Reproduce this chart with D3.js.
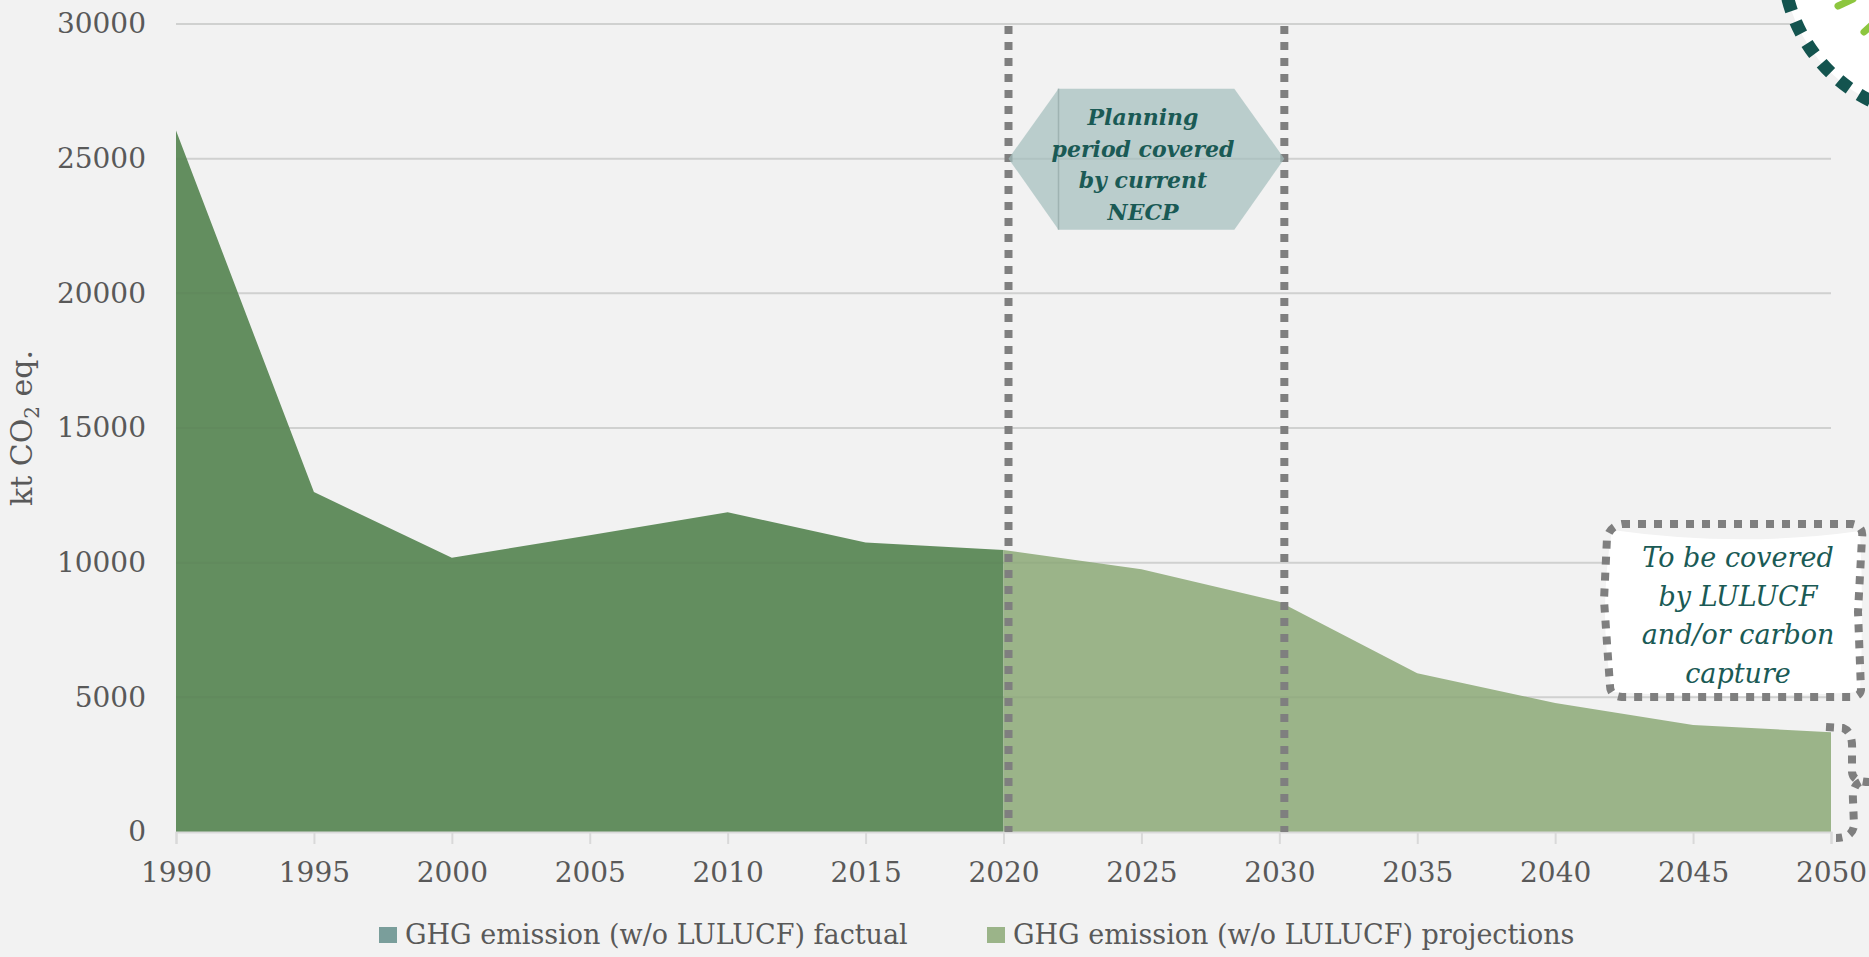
<!DOCTYPE html>
<html>
<head>
<meta charset="utf-8">
<script src="https://cdn.jsdelivr.net/npm/d3@7"></script>
<style>
  html, body { margin: 0; padding: 0; background: #f2f2f2; }
  svg { display: block; font-family: "DejaVu Serif", "Liberation Serif", serif; }
</style>
</head>
<body>
<svg id="chart" width="1869" height="957"></svg>
<script>
// years on the category axis
var years = [1990, 1995, 2000, 2005, 2010, 2015, 2020, 2025, 2030, 2035, 2040, 2045, 2050];
// factual emissions, 1990 - 2020 (kt CO2 eq.)
var factualYears = [1990, 1995, 2000, 2005, 2010, 2015, 2020];
var factualValues = [26050, 12620, 10180, 11020, 11870, 10745, 10470];
// projections, 2020 - 2050
var projYears = [2020, 2025, 2030, 2035, 2040, 2045, 2050];
var projValues = [10470, 9760, 8550, 5890, 4790, 3975, 3700];
var yTicks = [0, 5000, 10000, 15000, 20000, 25000, 30000];
var legendItems = ['GHG emission (w/o LULUCF) factual', 'GHG emission (w/o LULUCF) projections'];
var necpYears = [2020, 2030];
var necpText = ['Planning', 'period covered', 'by current', 'NECP'];
var boxText = ['To be covered', 'by LULUCF', 'and/or carbon', 'capture'];

var svg = d3.select('#chart');

var x = d3.scaleLinear().domain([1990, 2050]).range([176, 1831]);
var y = d3.scaleLinear().domain([0, 30000]).range([832, 24]);

// gridlines
svg.append('g').selectAll('line').data(yTicks.slice(1)).enter().append('line')
  .attr('x1', 176).attr('x2', 1831)
  .attr('y1', function (d) { return y(d); })
  .attr('y2', function (d) { return y(d); })
  .attr('stroke', '#d9d9d9').attr('stroke-width', 2);

var area = d3.area()
  .x(function (d) { return x(d[0]); })
  .y0(y(0))
  .y1(function (d) { return y(d[1]); });

svg.append('path')
  .datum(d3.zip(factualYears, factualValues))
  .attr('d', area).attr('fill', '#638e5f');

svg.append('path')
  .datum(d3.zip(projYears, projValues))
  .attr('d', area).attr('fill', '#9bb489');

// faint gridlines showing through the areas
svg.append('g').selectAll('line').data(yTicks.slice(1)).enter().append('line')
  .attr('x1', 176).attr('x2', 1831)
  .attr('y1', function (d) { return y(d); })
  .attr('y2', function (d) { return y(d); })
  .attr('stroke', 'rgba(60,80,60,0.06)').attr('stroke-width', 2);

// x axis
var xAxis = d3.axisBottom(x).tickValues(years).tickFormat(d3.format('d')).tickSize(12).tickPadding(18);
var gx = svg.append('g').attr('transform', 'translate(0,' + y(0) + ')').call(xAxis);
gx.select('.domain').attr('stroke', '#d9d9d9').attr('stroke-width', 2);
gx.selectAll('.tick line').attr('stroke', '#d9d9d9').attr('stroke-width', 2);
gx.selectAll('.tick text').attr('fill', '#595959').attr('font-size', 28)
  .attr('font-family', '"DejaVu Serif", serif');

// y axis labels
var yAxis = d3.axisLeft(y).tickValues(yTicks).tickFormat(d3.format('d')).tickSize(0).tickPadding(0);
var gy = svg.append('g').attr('transform', 'translate(146,0)').call(yAxis);
gy.select('.domain').remove();
gy.selectAll('.tick text').attr('fill', '#595959').attr('font-size', 28)
  .attr('font-family', '"DejaVu Serif", serif');

// y axis title
var yt = svg.append('text')
  .attr('transform', 'translate(32,428) rotate(-90)')
  .attr('text-anchor', 'middle')
  .attr('fill', '#595959').attr('font-size', 30);
yt.append('tspan').text('kt CO');
yt.append('tspan').attr('dy', 7).attr('font-size', 20).text('2');
yt.append('tspan').attr('dy', -7).text(' eq.');

// vertical dotted lines for the NECP period
svg.append('g').selectAll('line').data(necpYears).enter().append('line')
  .attr('x1', function (d) { return x(d) + 5; })
  .attr('x2', function (d) { return x(d) + 5; })
  .attr('y1', 26).attr('y2', 832)
  .attr('stroke', '#7f7f7f').attr('stroke-width', 8)
  .attr('stroke-dasharray', '8,8');

// hexagon label
var hx0 = x(2020) + 5, hx1 = x(2030) + 5, hy = y(25000);
svg.append('path')
  .attr('d', 'M' + hx0 + ',' + hy + 'L' + (hx0 + 50) + ',' + (hy - 70) + 'L' + (hx1 - 50) + ',' + (hy - 70) +
    'L' + hx1 + ',' + hy + 'L' + (hx1 - 50) + ',' + (hy + 71) + 'L' + (hx0 + 50) + ',' + (hy + 71) + 'Z')
  .attr('fill', '#a3bdbc').attr('opacity', 0.7);
svg.append('line')
  .attr('x1', hx0 + 50).attr('x2', hx0 + 50).attr('y1', hy - 70).attr('y2', hy + 71)
  .attr('stroke', '#9fb3b2').attr('stroke-width', 1.5);
svg.append('g').selectAll('text').data(necpText).enter().append('text')
  .attr('x', 1143)
  .attr('y', function (d, i) { return 125 + i * 31.7; })
  .attr('text-anchor', 'middle')
  .attr('font-weight', 'bold').attr('font-style', 'italic')
  .attr('font-size', 22).attr('fill', '#1a5a55')
  .text(function (d) { return d; });

// "To be covered" callout box
svg.append('path')
  .attr('d', 'M1612,530 Q1740,548 1860,531 Q1864,612 1860,692 Q1740,700 1612,692 Q1598,612 1612,530 Z')
  .attr('fill', '#ffffff');
svg.append('path')
  .attr('d', 'M1622,524 L1852,524 Q1864,526 1862,538 L1858,612 L1861,690 Q1860,697 1850,697 L1622,697 Q1610,696 1610,686 L1604,600 L1607,538 Q1610,526 1622,524 Z')
  .attr('fill', 'none').attr('stroke', '#7f7f7f').attr('stroke-width', 8)
  .attr('stroke-dasharray', '8,8');
svg.append('g').selectAll('text').data(boxText).enter().append('text')
  .attr('x', 1738)
  .attr('y', function (d, i) { return 567 + i * 38.5; })
  .attr('text-anchor', 'middle')
  .attr('font-style', 'italic')
  .attr('font-size', 27).attr('fill', '#1a5a55')
  .text(function (d) { return d; });

// brace to the right of 2050
svg.append('path')
  .attr('d', 'M1826,727 L1843,728 Q1853,732 1852,750 L1852,772 Q1853,782 1869,782 M1860,782 Q1852,786 1853,800 L1854,826 Q1852,838 1836,838')
  .attr('fill', 'none').attr('stroke', '#7f7f7f').attr('stroke-width', 8)
  .attr('stroke-dasharray', '8,8');

// partial dotted circle, top right
svg.append('circle')
  .attr('cx', 1940).attr('cy', -40).attr('r', 157)
  .attr('fill', '#ffffff').attr('stroke', '#14544f')
  .attr('stroke-width', 13).attr('stroke-dasharray', '13,11.5');
svg.append('line').attr('x1', 1838).attr('y1', 6).attr('x2', 1853).attr('y2', -1)
  .attr('stroke', '#8dc63f').attr('stroke-width', 7).attr('stroke-linecap', 'round');
svg.append('line').attr('x1', 1864).attr('y1', 32).attr('x2', 1875).attr('y2', 22)
  .attr('stroke', '#8dc63f').attr('stroke-width', 7).attr('stroke-linecap', 'round');

// legend
var legendColors = ['#7a9e9b', '#9bb489'];
var legendX = [379, 987];
var lg = svg.append('g').selectAll('g').data(legendItems).enter().append('g')
  .attr('transform', function (d, i) { return 'translate(' + legendX[i] + ',927)'; });
lg.append('rect').attr('width', 18).attr('height', 16)
  .attr('fill', function (d, i) { return legendColors[i]; });
lg.append('text').attr('x', 26).attr('y', 17)
  .attr('fill', '#595959').attr('font-size', 27)
  .text(function (d) { return d; });
</script>
</body>
</html>
